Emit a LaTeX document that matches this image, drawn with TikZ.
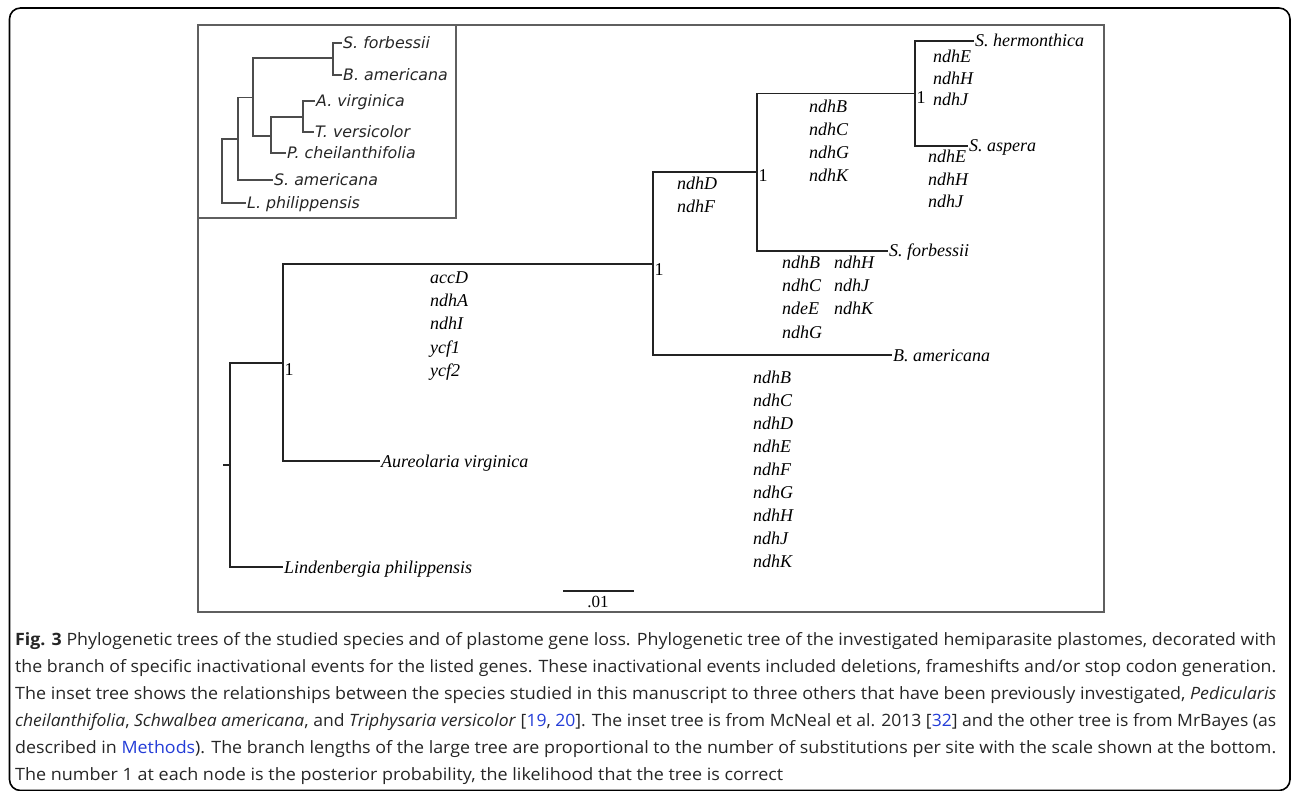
\documentclass[tikz,border=0pt]{standalone}
\usepackage{fontspec}
\usepackage{graphicx}
\setmainfont{Liberation Serif}
\newfontfamily\insetfont{DejaVu Sans}
\newfontfamily\capfont{Open Sans}
\definecolor{linkblue}{RGB}{35,60,215}
\definecolor{framegray}{RGB}{95,95,95}
\definecolor{treeblack}{RGB}{35,35,35}
\begin{document}
\begin{tikzpicture}[x=1pt,y=-1pt,
  treeline/.style={line width=1.9pt, draw=treeblack},
  insetline/.style={line width=1.2pt, draw=black!70},
  species/.style={anchor=west, inner sep=1pt, font=\fontsize{18}{20}\selectfont\itshape, text height=12pt, text depth=0pt},
  gene/.style={anchor=west, inner sep=0pt, font=\fontsize{18}{20}\selectfont\itshape, text height=12pt, text depth=0pt},
  pp/.style={inner sep=0pt, font=\fontsize{18}{20}\selectfont},
  ins/.style={anchor=west, inner sep=1pt, font=\insetfont\fontsize{15.8}{18}\selectfont\itshape, text height=11pt, text depth=0pt, text=black!85},
  capline/.style={anchor=base west, inner sep=0pt, font=\capfont\fontsize{17}{20}\selectfont, text=black!85},
  frame/.style={line width=1.3pt, draw=framegray}
]
\useasboundingbox (0,0) rectangle (1292,791);
% outer rounded frame
\draw[line width=1.6pt, rounded corners=11pt] (9.5,8) rectangle (1290,790.5);
% plot frame and inset frame
\draw[frame] (198,25) rectangle (1104,612);
\draw[frame] (198,25) rectangle (456,218);

% ---------------- main tree ----------------
\coordinate (rs) at (223,465);
\coordinate (n1) at (230,465);
\coordinate (n2) at (283,363);
\coordinate (n3) at (653,264);
\coordinate (n4) at (757,172);
\coordinate (n5) at (915,93.5);
\coordinate (tLin) at (283,567);
\coordinate (tAur) at (380,461);
\coordinate (tBam) at (892,355);
\coordinate (tSfo) at (888,251);
\coordinate (tShe) at (974,41);
\coordinate (tSas) at (968,146);

\draw[treeline] (rs) -- (n1);
\draw[treeline] (n1) |- (n2);
\draw[treeline] (n1) |- (tLin);
\draw[treeline] (n2) |- (n3);
\draw[treeline] (n2) |- (tAur);
\draw[treeline] (n3) |- (n4);
\draw[treeline] (n3) |- (tBam);
\draw[treeline] (n4) |- (n5);
\draw[treeline] (n4) |- (tSfo);
\draw[treeline] (n5) |- (tShe);
\draw[treeline] (n5) |- (tSas);

\node[species] (lLin) at (tLin) {Lindenbergia philippensis};
\node[species] (lAur) at (tAur) {Aureolaria virginica};
\node[species] (lBam) at (tBam) {B. americana};
\node[species] (lSfo) at (tSfo) {S. forbessii};
\node[species] (lShe) at (tShe) {S. hermonthica};
\node[species] (lSas) at (tSas) {S. aspera};

\node[pp] (p2) at (289,370) {1};
\node[pp] (p3) at (659,270) {1};
\node[pp] (p4) at (763,176) {1};
\node[pp] (p5) at (921,98) {1};

% gene loss labels
\foreach \g [count=\i] in {accD,ndhA,ndhI,ycf1,ycf2}
  \node[gene] (gA\i) at (430,{278+23*(\i-1)}) {\g};
\foreach \g [count=\i] in {ndhD,ndhF}
  \node[gene] (gB\i) at (677,{184+23*(\i-1)}) {\g};
\foreach \g [count=\i] in {ndhB,ndhC,ndhG,ndhK}
  \node[gene] (gC\i) at (809,{107+22.7*(\i-1)}) {\g};
\foreach \g [count=\i] in {ndhE,ndhH,ndhJ}
  \node[gene] (gD\i) at (933,{57+21.5*(\i-1)}) {\g};
\foreach \g [count=\i] in {ndhE,ndhH,ndhJ}
  \node[gene] (gE\i) at (928,{157+22.5*(\i-1)}) {\g};
\foreach \g [count=\i] in {ndhB,ndhC,ndeE,ndhG}
  \node[gene] (gF\i) at (782,{263+23*(\i-1)}) {\g};
\foreach \g [count=\i] in {ndhH,ndhJ,ndhK}
  \node[gene] (gG\i) at (834,{263+23*(\i-1)}) {\g};
\foreach \g [count=\i] in {ndhB,ndhC,ndhD,ndhE,ndhF,ndhG,ndhH,ndhJ,ndhK}
  \node[gene] (gH\i) at (753,{377+23*(\i-1)}) {\g};

% scale bar
\coordinate (sbL) at (563,591);
\coordinate (sbR) at (634,591);
\draw[treeline, line width=1.5pt] (sbL) -- (sbR);
\node[pp, font=\fontsize{17}{20}\selectfont] (sbT) at (598,602) {.01};

% ---------------- inset tree ----------------
\coordinate (iR) at (222,171.5);
\coordinate (i2) at (238,139);
\coordinate (i3) at (253,97.5);
\coordinate (i4) at (333,58);
\coordinate (i5) at (271,136);
\coordinate (i6) at (303,117);
\coordinate (jLp) at (246,203);
\coordinate (jSa) at (273,180);
\coordinate (jSf) at (342,43);
\coordinate (jBa) at (342,75);
\coordinate (jPc) at (286,153);
\coordinate (jAv) at (315,101);
\coordinate (jTv) at (314,132);

\draw[insetline] (iR) |- (i2);
\draw[insetline] (iR) |- (jLp);
\draw[insetline] (i2) |- (i3);
\draw[insetline] (i2) |- (jSa);
\draw[insetline] (i3) |- (i4);
\draw[insetline] (i3) |- (i5);
\draw[insetline] (i4) |- (jSf);
\draw[insetline] (i4) |- (jBa);
\draw[insetline] (i5) |- (i6);
\draw[insetline] (i5) |- (jPc);
\draw[insetline] (i6) |- (jAv);
\draw[insetline] (i6) |- (jTv);

\node[ins] (kSf) at (jSf) {S. forbessii};
\node[ins] (kBa) at (jBa) {B. americana};
\node[ins] (kAv) at (jAv) {A. virginica};
\node[ins] (kTv) at (jTv) {T. versicolor};
\node[ins] (kPc) at (jPc) {P. cheilanthifolia};
\node[ins] (kSa) at (jSa) {S. americana};
\node[ins] (kLp) at (jLp) {L. philippensis};

% ---------------- caption ----------------
\node[capline] (c1) at (15,645) {\resizebox{1261pt}{\height}{\textbf{Fig. 3} Phylogenetic trees of the studied species and of plastome gene loss. Phylogenetic tree of the investigated hemiparasite plastomes, decorated with}};
\node[capline] (c2) at (15,672) {\resizebox{1261pt}{\height}{the branch of specific inactivational events for the listed genes. These inactivational events included deletions, frameshifts and/or stop codon generation.}};
\node[capline] (c3) at (15,699) {\resizebox{1261pt}{\height}{The inset tree shows the relationships between the species studied in this manuscript to three others that have been previously investigated, \textit{Pedicularis}}};
\node[capline] (c4) at (15,726) {\resizebox{1261pt}{\height}{\textit{cheilanthifolia}, \textit{Schwalbea americana}, and \textit{Triphysaria versicolor} [\textcolor{linkblue}{19}, \textcolor{linkblue}{20}]. The inset tree is from McNeal et al. 2013 [\textcolor{linkblue}{32}] and the other tree is from MrBayes (as}};
\node[capline] (c5) at (15,753) {\resizebox{1261pt}{\height}{described in \textcolor{linkblue}{Methods}). The branch lengths of the large tree are proportional to the number of substitutions per site with the scale shown at the bottom.}};
\node[capline] (c6) at (15,780) {\resizebox{768pt}{\height}{The number 1 at each node is the posterior probability, the likelihood that the tree is correct}};
\end{tikzpicture}
\end{document}
